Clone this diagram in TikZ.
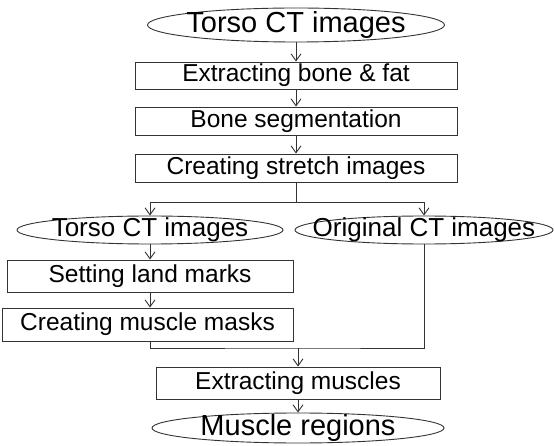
\documentclass[tikz,border=0pt]{standalone}
\usepackage{fontspec}
\setmainfont{Liberation Sans}
\usetikzlibrary{arrows.meta,shapes.geometric}
\newcommand{\stg}{\fontsize{24.5}{28}\selectfont}
\newcommand{\ovl}{\fontsize{26}{30}\selectfont}
\newcommand{\ovlbig}{\fontsize{29}{33}\selectfont}

\begin{document}
\begin{tikzpicture}[x=1pt,y=-1pt,
    stage/.style={draw=black!80,line width=0.9pt,inner sep=0pt,minimum width=322pt,minimum height=28pt,font=\stg},
    oval/.style={draw=black!80,line width=0.9pt,ellipse,inner xsep=-25pt,inner ysep=-10pt,font=\ovl},
    flow/.style={draw=black!80,line width=0.9pt},
    tip/.style={-{Straight Barb[length=7pt,width=10pt]}}]
       \useasboundingbox (0,0) rectangle (554,446);
       \node[oval,minimum width=297pt,minimum height=34pt,font=\ovlbig] (ct) at (296,25) {Torso CT images};
       \node[stage,minimum height=27pt] (fat) at (296,75.5) {Extracting bone \& fat};
       \node[stage] (seg) at (296,121) {Bone segmentation};
       \node[stage] (stretch) at (296,168) {Creating stretch images};
       \coordinate (split) at (296,202);
       \node[oval,minimum width=266pt,minimum height=28pt] (ctl) at (150,230) {Torso CT images};
       \node[oval,minimum width=258pt,minimum height=28pt] (orig) at (424,230) {Original CT images};
       \node[stage,minimum width=286pt,minimum height=32pt] (marks) at (150,276) {Setting land marks};
       \node[stage,minimum width=291pt,minimum height=33pt] (masks) at (147.5,324.5) {Creating muscle masks};
       \coordinate (join) at (298,348);
       \node[stage,minimum width=284pt,minimum height=32pt] (muscle) at (298,383) {Extracting muscles};
       \node[oval,minimum width=292pt,minimum height=30pt,font=\ovlbig] (region) at (298,428) {Muscle regions};
       \draw[flow,tip] (ct) -- (fat);
       \draw[flow,tip] (fat) -- (seg);
       \draw[flow,tip] (seg) -- (stretch);
       \draw[flow] (stretch) -- (split);
       \draw[flow,tip] (split) -| (ctl);
       \draw[flow,tip] (split) -| (orig);
       \draw[flow,tip] (ctl) -- (marks);
       \draw[flow,tip] (marks.south) -- (marks.south |- masks.north);
       \draw[flow] (marks.south |- masks.south) |- (join) -| (orig);
       \draw[flow,tip] (join) -- (muscle);
       \draw[flow,tip] (muscle) -- (region);
      \end{tikzpicture}
\end{document}
